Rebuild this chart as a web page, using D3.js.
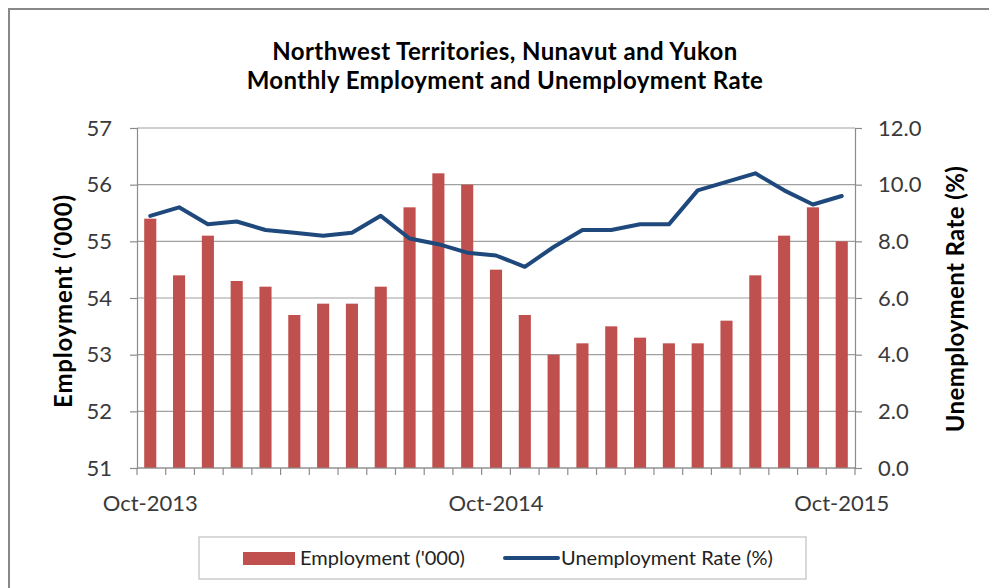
<!DOCTYPE html>
<html>
<head>
<meta charset="utf-8">
<script src="https://cdn.jsdelivr.net/npm/d3@7"></script>
<style>
  body { margin: 0; background: #fff; }
  text { font-family: Lato, "Open Sans", sans-serif; }
</style>
</head>
<body>
<script>
// monthly data, Oct-2013 .. Oct-2015
var months = ["Oct-2013","Nov-2013","Dec-2013","Jan-2014","Feb-2014","Mar-2014","Apr-2014",
  "May-2014","Jun-2014","Jul-2014","Aug-2014","Sep-2014","Oct-2014","Nov-2014","Dec-2014",
  "Jan-2015","Feb-2015","Mar-2015","Apr-2015","May-2015","Jun-2015","Jul-2015","Aug-2015",
  "Sep-2015","Oct-2015"];
var employment = [55.4,54.4,55.1,54.3,54.2,53.7,53.9,53.9,54.2,55.6,56.2,56.0,54.5,
  53.7,53.0,53.2,53.5,53.3,53.2,53.2,53.6,54.4,55.1,55.6,55.0];
var unempRate = [8.9,9.2,8.6,8.7,8.4,8.3,8.2,8.3,8.9,8.1,7.9,7.6,7.5,
  7.1,7.8,8.4,8.4,8.6,8.6,9.8,10.1,10.4,9.8,9.3,9.6];
var xLabels = ["Oct-2013","Oct-2014","Oct-2015"];
var leftTicks = [51,52,53,54,55,56,57];
var rightTicks = [0,2,4,6,8,10,12];

var width = 989, height = 588;
var margins = { top: 128, bottom: 120, left: 137, right: 134 };

var svg = d3.select("body").append("svg")
  .attr("width", width)
  .attr("height", height);

svg.append("rect")
  .attr("x", 0).attr("y", 0).attr("width", width).attr("height", height)
  .attr("fill", "#fff");

// outer chart frame
svg.append("rect")
  .attr("x", 9).attr("y", 9).attr("width", 1000).attr("height", 600)
  .attr("fill", "none").attr("stroke", "#888").attr("stroke-width", 2);

var x0 = margins.left, x1 = width - margins.right;
var yTop = margins.top, yBot = height - margins.bottom;

var xScale = d3.scaleBand()
  .domain(months)
  .range([x0, x1])
  .paddingInner(0.58)
  .paddingOuter(0.25);

var yLeft = d3.scaleLinear().domain([51, 57]).range([yBot, yTop]);
var yRight = d3.scaleLinear().domain([0, 12]).range([yBot, yTop]);

// gridlines
svg.append("g")
  .selectAll("line")
  .data(leftTicks)
  .enter()
  .append("line")
  .attr("x1", x0).attr("x2", x1)
  .attr("y1", function(d){ return yLeft(d); })
  .attr("y2", function(d){ return yLeft(d); })
  .attr("stroke", "#a0a0a0")
  .attr("stroke-width", 1.2);

// left axis
var leftAxis = svg.append("g")
  .attr("transform", "translate(" + x0 + ",0)")
  .call(d3.axisLeft(yLeft).tickValues(leftTicks).tickSize(7).tickPadding(18).tickFormat(d3.format("d")));

// right axis
var rightAxis = svg.append("g")
  .attr("transform", "translate(" + x1 + ",0)")
  .call(d3.axisRight(yRight).tickValues(rightTicks).tickSize(7).tickPadding(16).tickFormat(d3.format(".1f")));

[leftAxis, rightAxis].forEach(function(ax){
  ax.select(".domain").attr("stroke", "#8c8c8c").attr("stroke-width", 1.2);
  ax.selectAll(".tick line").attr("stroke", "#8c8c8c").attr("stroke-width", 1.2);
  ax.selectAll(".tick text")
    .attr("fill", "#3a3a3a")
    .style("font-size", "22px")
    .style("font-family", "Lato, 'Open Sans', sans-serif");
});

// bars
svg.append("g")
  .selectAll("rect")
  .data(employment)
  .enter()
  .append("rect")
  .attr("x", function(d, i){ return xScale(months[i]); })
  .attr("y", function(d){ return yLeft(d); })
  .attr("width", xScale.bandwidth())
  .attr("height", function(d){ return yBot - yLeft(d); })
  .attr("fill", "#c0504d");

// x axis line and boundary ticks
svg.append("line")
  .attr("x1", x0).attr("x2", x1).attr("y1", yBot).attr("y2", yBot)
  .attr("stroke", "#8c8c8c").attr("stroke-width", 1.2);

var step = (x1 - x0) / months.length;
var bounds = d3.range(months.length + 1);
svg.append("g")
  .selectAll("line")
  .data(bounds)
  .enter()
  .append("line")
  .attr("x1", function(d){ return x0 + d * step; })
  .attr("x2", function(d){ return x0 + d * step; })
  .attr("y1", yBot).attr("y2", yBot + 7)
  .attr("stroke", "#8c8c8c").attr("stroke-width", 1.2);

svg.append("g")
  .selectAll("text")
  .data(xLabels)
  .enter()
  .append("text")
  .attr("x", function(d){ return xScale(d) + xScale.bandwidth() / 2; })
  .attr("y", 511)
  .attr("text-anchor", "middle")
  .attr("fill", "#3a3a3a")
  .style("font-size", "22px")
  .text(function(d){ return d; });

// unemployment line
var line = d3.line()
  .x(function(d, i){ return xScale(months[i]) + xScale.bandwidth() / 2; })
  .y(function(d){ return yRight(d); });

svg.append("path")
  .datum(unempRate)
  .attr("d", line)
  .attr("fill", "none")
  .attr("stroke", "#1f497d")
  .attr("stroke-width", 4)
  .attr("stroke-linejoin", "round")
  .attr("stroke-linecap", "round");

// titles
svg.append("text")
  .attr("x", 505).attr("y", 60)
  .attr("text-anchor", "middle")
  .style("font-size", "24px").style("font-weight", "bold").style("letter-spacing", "0.4px")
  .text("Northwest Territories,  Nunavut and Yukon");
svg.append("text")
  .attr("x", 505).attr("y", 89)
  .attr("text-anchor", "middle")
  .style("font-size", "24px").style("font-weight", "bold").style("letter-spacing", "0.4px")
  .text("Monthly Employment and Unemployment Rate");

svg.append("text")
  .attr("transform", "translate(72,301) rotate(-90)")
  .attr("text-anchor", "middle")
  .style("font-size", "24px").style("font-weight", "bold").style("letter-spacing", "0.8px")
  .text("Employment ('000)");
svg.append("text")
  .attr("transform", "translate(964,299) rotate(-90)")
  .attr("text-anchor", "middle")
  .style("font-size", "24px").style("font-weight", "bold").style("letter-spacing", "0.4px")
  .text("Unemployment Rate (%)");

// legend
var legend = svg.append("g");
legend.append("rect")
  .attr("x", 199).attr("y", 537).attr("width", 607).attr("height", 42)
  .attr("fill", "#fff").attr("stroke", "#c0c0c0").attr("stroke-width", 1.2);
legend.append("rect")
  .attr("x", 243).attr("y", 552).attr("width", 52).attr("height", 13)
  .attr("fill", "#c0504d");
legend.append("text")
  .attr("x", 300).attr("y", 565)
  .attr("fill", "#222")
  .style("font-size", "20px")
  .text("Employment ('000)");
legend.append("line")
  .attr("x1", 505).attr("x2", 558).attr("y1", 558).attr("y2", 558)
  .attr("stroke", "#1f497d").attr("stroke-width", 4).attr("stroke-linecap", "round");
legend.append("text")
  .attr("x", 561).attr("y", 565)
  .attr("fill", "#222")
  .style("font-size", "20px")
  .text("Unemployment Rate (%)");
</script>
</body>
</html>
